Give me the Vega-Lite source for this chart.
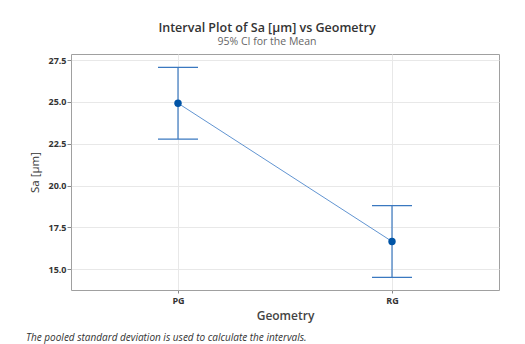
{
  "$schema": "https://vega.github.io/schema/vega-lite/v6.json",
  "padding": {"left": 25, "top": 21, "right": 0, "bottom": 0},
  "background": "white",
  "title": {
    "text": "Interval Plot of Sa [µm] vs Geometry",
    "subtitle": "95% CI for the Mean",
    "anchor": "middle",
    "frame": "group",
    "dx": -18,
    "font": "Open Sans",
    "fontSize": 12.5,
    "fontWeight": 600,
    "color": "#333333",
    "subtitleFont": "Open Sans",
    "subtitleFontSize": 10.5,
    "subtitleColor": "#666666",
    "subtitlePadding": 3,
    "offset": 6
  },
  "data": {
    "values": [
      {"Geometry": "PG", "Mean": 24.92, "Lower": 22.78, "Upper": 27.06},
      {"Geometry": "RG", "Mean": 16.66, "Lower": 14.52, "Upper": 18.80}
    ]
  },
  "vconcat": [
    {
      "width": 428,
      "height": 236,
      "title": {
        "text": "The pooled standard deviation is used to calculate the intervals.",
        "orient": "bottom",
        "anchor": "start",
        "frame": "group",
        "dx": -45,
        "font": "Open Sans",
        "fontStyle": "italic",
        "fontWeight": "normal",
        "fontSize": 10,
        "color": "#333333",
        "offset": 12
      },
      "encoding": {
        "x": {
          "field": "Geometry",
          "type": "nominal",
          "scale": {"type": "point", "padding": 0.5},
          "axis": {
            "title": "Geometry",
            "labelAngle": 0,
            "labelFontWeight": "bold",
            "labelFontSize": 9,
            "labelColor": "#333333",
            "labelPadding": 3,
            "tickSize": 3,
            "tickColor": "#888888",
            "domain": false,
            "grid": true,
            "gridColor": "#e8e8e8",
            "titleFontSize": 12,
            "titleFontWeight": 600,
            "titleColor": "#444444",
            "titlePadding": 5
          }
        }
      },
      "layer": [
        {
          "mark": {"type": "rule", "color": "#3a78c0", "strokeWidth": 1.2},
          "encoding": {
            "y": {
              "field": "Lower",
              "type": "quantitative",
              "scale": {"domain": [13.76, 27.86], "nice": false, "zero": false},
              "axis": {
                "title": "Sa [µm]",
                "values": [15, 17.5, 20, 22.5, 25, 27.5],
                "format": ".1f",
                "labelFontWeight": "bold",
                "labelFontSize": 9,
                "labelColor": "#333333",
                "labelPadding": 1,
                "tickSize": 4,
                "tickColor": "#888888",
                "domain": false,
                "grid": true,
                "gridColor": "#e8e8e8",
                "titleFontSize": 11.5,
                "titleFontWeight": "normal",
                "titleColor": "#333333",
                "titlePadding": 7
              }
            },
            "y2": {"field": "Upper"}
          }
        },
        {
          "mark": {"type": "tick", "orient": "horizontal", "size": 40, "thickness": 1.2, "color": "#3a78c0", "opacity": 1},
          "encoding": {"y": {"field": "Upper", "type": "quantitative"}}
        },
        {
          "mark": {"type": "tick", "orient": "horizontal", "size": 40, "thickness": 1.2, "color": "#3a78c0", "opacity": 1},
          "encoding": {"y": {"field": "Lower", "type": "quantitative"}}
        },
        {
          "mark": {"type": "line", "color": "#4f88cc", "strokeWidth": 0.9},
          "encoding": {"y": {"field": "Mean", "type": "quantitative"}}
        },
        {
          "mark": {"type": "point", "filled": true, "size": 55, "color": "#0054a6", "opacity": 1},
          "encoding": {"y": {"field": "Mean", "type": "quantitative"}}
        }
      ]
    }
  ],
  "config": {
    "font": "Open Sans",
    "view": {"stroke": "#a0a0a0", "strokeWidth": 1}
  }
}
